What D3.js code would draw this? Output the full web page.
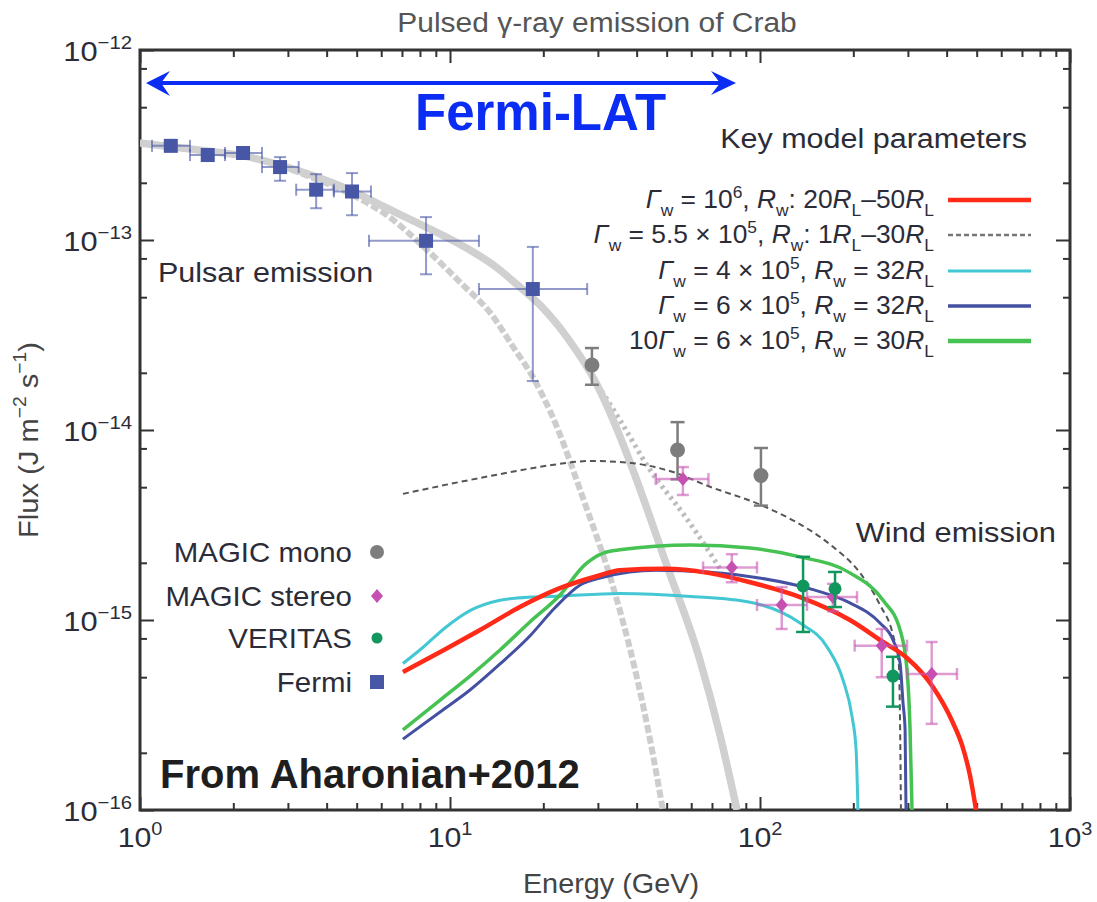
<!DOCTYPE html>
<html>
<head>
<meta charset="utf-8">
<script src="https://cdn.jsdelivr.net/npm/d3@7"></script>
<style>
body { margin: 0; background: #fff; }
text { font-family: "Liberation Sans", Arial, Helvetica, sans-serif; }
</style>
</head>
<body>
<div id="chart"></div>
<script>
// ---- data (energy in GeV, flux in J m^-2 s^-1) ----
const xTickExp = [0, 1, 2, 3];
const yTickExp = [-12, -13, -14, -15, -16];

// Fermi-LAT points
const fermiPts = [
  { e: 1.257, e0: 1.093, e1: 1.45, f: 3.13e-13, f0: 2.97e-13, f1: 3.30e-13 },
  { e: 1.654, e0: 1.45, e1: 1.88, f: 2.80e-13, f0: 2.66e-13, f1: 2.95e-13 },
  { e: 2.15, e0: 1.88, e1: 2.475, f: 2.87e-13, f0: 2.72e-13, f1: 3.02e-13 },
  { e: 2.83, e0: 2.475, e1: 3.25, f: 2.42e-13, f0: 2.05e-13, f1: 2.73e-13 },
  { e: 3.70, e0: 3.19, e1: 4.22, f: 1.84e-13, f0: 1.47e-13, f1: 2.22e-13 },
  { e: 4.83, e0: 4.22, e1: 5.56, f: 1.80e-13, f0: 1.35e-13, f1: 2.25e-13 },
  { e: 8.37, e0: 5.48, e1: 12.4, f: 9.9e-14, f0: 6.6e-14, f1: 1.32e-13 },
  { e: 18.5, e0: 12.4, e1: 27.7, f: 5.52e-14, f0: 1.81e-14, f1: 9.2e-14 }
];
// MAGIC mono
const monoPts = [
  { e: 28.7, f: 2.2e-14, f0: 1.73e-14, f1: 2.70e-14 },
  { e: 54.2, f: 7.85e-15, f0: 5.5e-15, f1: 1.1e-14 },
  { e: 100.7, f: 5.76e-15, f0: 4.0e-15, f1: 8.04e-15 }
];
// MAGIC stereo
const stereoPts = [
  { e: 56.4, e0: 46.1, e1: 68.2, f: 5.52e-15, f0: 4.55e-15, f1: 6.38e-15 },
  { e: 81.1, e0: 65.5, e1: 97.8, f: 1.89e-15, f0: 1.58e-15, f1: 2.22e-15 },
  { e: 117.5, e0: 97.8, e1: 141.8, f: 1.20e-15, f0: 8.97e-16, f1: 1.49e-15 },
  { e: 171.9, e0: 141.8, e1: 205.6, f: 1.32e-15, f0: 1.11e-15, f1: 1.55e-15 },
  { e: 247, e0: 202, e1: 298, f: 7.33e-16, f0: 5.0e-16, f1: 8.97e-16 },
  { e: 358, e0: 298, e1: 432, f: 5.2e-16, f0: 2.84e-16, f1: 7.66e-16 }
];
// VERITAS
const veritasPts = [
  { e: 137.7, f: 1.51e-15, f0: 8.65e-16, f1: 2.15e-15 },
  { e: 174.6, f: 1.46e-15, f0: 1.17e-15, f1: 1.79e-15 },
  { e: 268.5, f: 5.07e-16, f0: 3.5e-16, f1: 6.4e-16 }
];

// pulsar model curves (grey)
const pulsarSolid = [[1, 3.24e-13], [1.64, 2.94e-13], [2.15, 2.77e-13], [2.83, 2.48e-13], [3.70, 2.15e-13],
  [4.83, 1.81e-13], [6.26, 1.47e-13], [8.18, 1.19e-13], [11.0, 9.3e-14], [13.8, 7.38e-14], [16.8, 5.66e-14],
  [19.5, 4.55e-14], [23.8, 3.09e-14], [29.8, 1.73e-14], [33.6, 1.13e-14], [38.4, 6.54e-15], [49.7, 2.0e-15],
  [64.0, 6.16e-16], [74.3, 2.48e-16], [84.3, 1.0e-16]];
const pulsarDashed = [[1, 3.24e-13], [1.64, 2.94e-13], [2.15, 2.77e-13], [2.83, 2.45e-13], [3.70, 2.09e-13],
  [4.83, 1.73e-13], [6.26, 1.35e-13], [8.43, 8.86e-14], [11.0, 5.80e-14], [13.5, 4.13e-14], [16.0, 2.73e-14],
  [18.5, 1.90e-14], [21.3, 1.20e-14], [27.2, 4.13e-15], [33.6, 1.49e-15], [39.2, 5.80e-16], [44.2, 2.34e-16],
  [48.6, 1.0e-16]];
const pulsarDotted = [[1, 3.24e-13], [1.64, 2.94e-13], [2.15, 2.77e-13], [2.83, 2.48e-13], [3.70, 2.15e-13],
  [4.83, 1.81e-13], [6.26, 1.47e-13], [8.18, 1.19e-13], [11.0, 9.3e-14], [13.8, 7.38e-14], [16.8, 5.66e-14],
  [19.5, 4.55e-14], [23.8, 3.09e-14], [29.8, 1.75e-14], [35.3, 1.13e-14], [44.2, 6.16e-15], [56.9, 3.57e-15],
  [70.0, 2.17e-15], [75.4, 1.79e-15]];

// wind model curves
const windRed = [[7.05, 5.32e-16], [9.56, 6.95e-16], [12.5, 8.86e-16], [16.8, 1.17e-15], [22.6, 1.47e-15],
  [30.5, 1.72e-15], [35.3, 1.83e-15], [49.7, 1.86e-15], [68.0, 1.77e-15], [92.9, 1.58e-15], [134.6, 1.32e-15],
  [195.0, 1.0e-15], [249.5, 7.66e-16], [298.0, 6.31e-16], [361.4, 4.44e-16], [419.5, 2.87e-16], [448.3, 2.20e-16],
  [475.3, 1.53e-16], [497.7, 1.0e-16]];
const windGrey = [[7.05, 4.61e-15], [10.0, 5.20e-15], [14.5, 5.86e-15], [21.3, 6.54e-15], [28.3, 6.87e-15],
  [38.4, 6.70e-15], [52.4, 6.01e-15], [68.0, 5.07e-15], [100.7, 4.03e-15], [130.6, 3.28e-15], [170.8, 2.45e-15],
  [210.2, 1.77e-15], [243.8, 1.20e-15], [268.5, 8.34e-16], [280.5, 5.80e-16], [283.0, 2.87e-16], [284.9, 1.0e-16]];
const windCyan = [[7.05, 5.90e-16], [8.12, 7.10e-16], [9.63, 9.08e-16], [11.6, 1.12e-15], [14.5, 1.27e-15],
  [18.1, 1.32e-15], [21.3, 1.33e-15], [35.3, 1.38e-15], [59.9, 1.33e-15], [92.9, 1.24e-15], [134.6, 9.64e-16],
  [164.5, 7.22e-16], [185.3, 4.83e-16], [198.2, 3.09e-16], [204.2, 2.07e-16], [207.0, 1.0e-16]];
const windBlue = [[7.05, 2.36e-16], [9.29, 3.28e-16], [11.6, 4.28e-16], [14.5, 5.87e-16], [18.1, 8.24e-16],
  [21.8, 1.16e-15], [26.3, 1.53e-15], [31.2, 1.68e-15], [46.2, 1.83e-15], [68.0, 1.79e-15], [100.7, 1.66e-15],
  [149.3, 1.44e-15], [195.0, 1.23e-15], [243.8, 9.64e-16], [268.5, 7.85e-16], [283.0, 5.94e-16], [289.3, 3.66e-16],
  [293.8, 2.64e-16], [295.8, 1.0e-16]];
const windGreen = [[7.05, 2.64e-16], [9.29, 3.79e-16], [11.6, 5.07e-16], [14.5, 6.95e-16], [18.1, 9.76e-16],
  [22.6, 1.35e-15], [27.2, 1.95e-15], [31.2, 2.25e-15], [35.3, 2.34e-15], [59.9, 2.48e-15], [92.9, 2.39e-15],
  [134.6, 2.15e-15], [195.0, 1.77e-15], [249.5, 1.27e-15], [283.0, 8.86e-16], [298.0, 5.46e-16], [304.8, 2.64e-16],
  [309.3, 1.0e-16]];

const modelLabels = [
  [['Γ', 'i'], ['w', 'sub'], [' = 10'], ['6', 'sup'], [', '], ['R', 'i'], ['w', 'sub'], [': 20'], ['R', 'i'], ['L', 'sub'], ['–50'], ['R', 'i'], ['L', 'sub']],
  [['Γ', 'i'], ['w', 'sub'], [' = 5.5 × 10'], ['5', 'sup'], [', '], ['R', 'i'], ['w', 'sub'], [': 1'], ['R', 'i'], ['L', 'sub'], ['–30'], ['R', 'i'], ['L', 'sub']],
  [['Γ', 'i'], ['w', 'sub'], [' = 4 × 10'], ['5', 'sup'], [', '], ['R', 'i'], ['w', 'sub'], [' = 32'], ['R', 'i'], ['L', 'sub']],
  [['Γ', 'i'], ['w', 'sub'], [' = 6 × 10'], ['5', 'sup'], [', '], ['R', 'i'], ['w', 'sub'], [' = 32'], ['R', 'i'], ['L', 'sub']],
  [['10'], ['Γ', 'i'], ['w', 'sub'], [' = 6 × 10'], ['5', 'sup'], [', '], ['R', 'i'], ['w', 'sub'], [' = 30'], ['R', 'i'], ['L', 'sub']]
];
const dataLabels = ['MAGIC mono', 'MAGIC stereo', 'VERITAS', 'Fermi'];

// ---- setup ----
const W = 1097, H = 902;
const svg = d3.select('#chart').append('svg').attr('width', W).attr('height', H);
const x = d3.scaleLog().domain([1, 1000]).range([140, 1070]);
const y = d3.scaleLog().domain([1e-16, 1e-12]).range([810, 50]);
const txt = '#2c2c38';

svg.append('clipPath').attr('id', 'clip')
  .append('rect').attr('x', 140).attr('y', 50).attr('width', 930).attr('height', 760);

// the figure's font is a bit wider than Liberation Sans, so stretch horizontally
function label(g, px, py, str, fs, anchor, col, sx, weight) {
  return g.append('text').attr('transform', `translate(${px},${py}) scale(${sx || 1},1)`)
    .attr('font-size', fs).attr('text-anchor', anchor).attr('fill', col)
    .attr('font-weight', weight || 'normal').text(str);
}
// rich text with sub / superscripts
function richText(g, px, py, parts, fs, anchor, col, sx) {
  const t = g.append('text').attr('transform', `translate(${px},${py}) scale(${sx || 1},1)`)
    .attr('font-size', fs).attr('text-anchor', anchor).attr('fill', col);
  let shift = 0;
  parts.forEach(p => {
    const target = p[1] === 'sub' ? fs * 0.32 : p[1] === 'sup' ? -fs * 0.42 : 0;
    const ts = t.append('tspan').text(p[0]).attr('dy', target - shift);
    if (p[1] === 'sub' || p[1] === 'sup') ts.attr('font-size', fs * 0.66);
    if (p[1] === 'i') ts.attr('font-style', 'italic');
    shift = target;
  });
  return t;
}

// ---- axes / frame ----
const xMinor = [], yMinor = [];
for (let d = 0; d < 3; d++) for (let k = 2; k <= 9; k++) xMinor.push(k * Math.pow(10, d));
for (let d = -16; d < -12; d++) [2, 5, 8].forEach(k => yMinor.push(k * Math.pow(10, d)));
const xMajor = xTickExp.map(p => Math.pow(10, p));
const yMajor = yTickExp.map(p => Math.pow(10, p));

function tickAxis(axis, vals, size, tr) {
  const g = svg.append('g').attr('transform', tr)
    .call(axis.tickValues(vals).tickSize(size).tickFormat(''));
  g.select('.domain').remove();
  g.selectAll('line').attr('stroke', '#333').attr('stroke-width', 2);
}
tickAxis(d3.axisBottom(x), xMajor, -13, 'translate(0,810)');
tickAxis(d3.axisBottom(x), xMinor, -7, 'translate(0,810)');
tickAxis(d3.axisTop(x), xMajor, -13, 'translate(0,50)');
tickAxis(d3.axisTop(x), xMinor, -7, 'translate(0,50)');
tickAxis(d3.axisLeft(y), yMajor, -14, 'translate(140,0)');
tickAxis(d3.axisLeft(y), yMinor, -7, 'translate(140,0)');
tickAxis(d3.axisRight(y), yMajor, -14, 'translate(1070,0)');
tickAxis(d3.axisRight(y), yMinor, -7, 'translate(1070,0)');

svg.append('rect').attr('x', 140).attr('y', 50).attr('width', 930).attr('height', 760)
  .attr('fill', 'none').attr('stroke', '#333').attr('stroke-width', 3);

// tick labels
xTickExp.forEach(p => {
  richText(svg, x(Math.pow(10, p)), 847, [['10'], [String(p), 'sup']], 28, 'middle', txt, 1.08);
});
yTickExp.forEach(p => {
  richText(svg, 132, y(Math.pow(10, p)) + 11, [['10'], [String(p).replace('-', '−'), 'sup']], 28, 'end', txt, 1.1);
});

// axis titles
label(svg, 611, 893, 'Energy (GeV)', 28, 'middle', '#444', 1.03);
const yl = svg.append('g').attr('transform', 'translate(38,440) rotate(-90)');
richText(yl, 0, 0, [['Flux (J m'], ['−2', 'sup'], [' s'], ['−1', 'sup'], [')']], 28, 'middle', '#444', 1.04);

// title
label(svg, 597, 32, 'Pulsed γ-ray emission of Crab', 28, 'middle', '#555', 1.07);

// ---- curves ----
const line = d3.line().x(d => x(d[0])).y(d => y(d[1])).curve(d3.curveMonotoneX);
const plot = svg.append('g').attr('clip-path', 'url(#clip)');

plot.append('path').datum(pulsarDotted).attr('d', line).attr('fill', 'none')
  .attr('stroke', '#bdbdbd').attr('stroke-width', 5).attr('stroke-dasharray', '3,4');
plot.append('path').datum(pulsarDashed).attr('d', line).attr('fill', 'none')
  .attr('stroke', '#cdcdcd').attr('stroke-width', 6).attr('stroke-dasharray', '8,3');
plot.append('path').datum(pulsarSolid).attr('d', line).attr('fill', 'none')
  .attr('stroke', '#d0d0d0').attr('stroke-width', 7.5);

plot.append('path').datum(windGrey).attr('d', line).attr('fill', 'none')
  .attr('stroke', '#555').attr('stroke-width', 2).attr('stroke-dasharray', '6,4');
plot.append('path').datum(windCyan).attr('d', line).attr('fill', 'none')
  .attr('stroke', '#43c7d3').attr('stroke-width', 3);
plot.append('path').datum(windGreen).attr('d', line).attr('fill', 'none')
  .attr('stroke', '#45c252').attr('stroke-width', 3.5);
plot.append('path').datum(windBlue).attr('d', line).attr('fill', 'none')
  .attr('stroke', '#4450a2').attr('stroke-width', 3);
plot.append('path').datum(windRed).attr('d', line).attr('fill', 'none')
  .attr('stroke', '#ff2a17').attr('stroke-width', 4.5);

// ---- data points ----
function errBars(data, col, w, cap, horiz) {
  const g = plot.append('g').attr('stroke', col).attr('stroke-width', w).attr('fill', 'none');
  data.forEach(d => {
    const cx = x(d.e), cy = y(d.f);
    g.append('line').attr('x1', cx).attr('x2', cx).attr('y1', y(d.f0)).attr('y2', y(d.f1));
    g.append('line').attr('x1', cx - cap).attr('x2', cx + cap).attr('y1', y(d.f0)).attr('y2', y(d.f0));
    g.append('line').attr('x1', cx - cap).attr('x2', cx + cap).attr('y1', y(d.f1)).attr('y2', y(d.f1));
    if (horiz) {
      g.append('line').attr('x1', x(d.e0)).attr('x2', x(d.e1)).attr('y1', cy).attr('y2', cy);
      g.append('line').attr('x1', x(d.e0)).attr('x2', x(d.e0)).attr('y1', cy - cap).attr('y2', cy + cap);
      g.append('line').attr('x1', x(d.e1)).attr('x2', x(d.e1)).attr('y1', cy - cap).attr('y2', cy + cap);
    }
  });
}
const fermiCol = '#4757a6', monoCol = '#7d7d7d', stereoCol = '#c650b2', veritasCol = '#11975d';

errBars(fermiPts, 'rgba(71,87,166,0.6)', 2, 6, true);
plot.selectAll('.fermi').data(fermiPts).enter().append('rect')
  .attr('x', d => x(d.e) - 7).attr('y', d => y(d.f) - 7).attr('width', 14).attr('height', 14)
  .attr('fill', fermiCol);

errBars(monoPts, monoCol, 2.5, 7, false);
plot.selectAll('.mono').data(monoPts).enter().append('circle')
  .attr('cx', d => x(d.e)).attr('cy', d => y(d.f)).attr('r', 7.5).attr('fill', monoCol);

errBars(stereoPts, 'rgba(200,90,180,0.6)', 2.5, 6, true);
plot.selectAll('.stereo').data(stereoPts).enter().append('path')
  .attr('d', d => `M${x(d.e)},${y(d.f) - 7}l6,7l-6,7l-6,-7z`).attr('fill', stereoCol);

errBars(veritasPts, veritasCol, 2.5, 7, false);
plot.selectAll('.veritas').data(veritasPts).enter().append('circle')
  .attr('cx', d => x(d.e)).attr('cy', d => y(d.f)).attr('r', 6.5).attr('fill', veritasCol);

// ---- annotations ----
label(svg, 158, 282, 'Pulsar emission', 28, 'start', txt, 1.09);
label(svg, 1056, 542, 'Wind emission', 28, 'end', txt, 1.1);
label(svg, 1027, 148, 'Key model parameters', 28, 'end', txt, 1.09);

// model legend
const rowY = [200, 235, 271, 306, 341];
const rowStyle = [
  { c: '#ff2a17', w: 4.5, d: null },
  { c: '#777', w: 2.5, d: '5,3' },
  { c: '#43c7d3', w: 3, d: null },
  { c: '#4450a2', w: 3.5, d: null },
  { c: '#45c252', w: 4.5, d: null }
];
modelLabels.forEach((parts, i) => {
  richText(svg, 934, rowY[i] + 8, parts, 25, 'end', txt, 1.055);
  svg.append('line').attr('x1', 948).attr('x2', 1031).attr('y1', rowY[i]).attr('y2', rowY[i])
    .attr('stroke', rowStyle[i].c).attr('stroke-width', rowStyle[i].w)
    .attr('stroke-dasharray', rowStyle[i].d);
});

// data legend
const legY = [552, 596, 638, 682];
dataLabels.forEach((lab, i) => {
  label(svg, 352, legY[i] + 10, lab, 27, 'end', txt, 1.09);
});
svg.append('circle').attr('cx', 377).attr('cy', legY[0]).attr('r', 7).attr('fill', monoCol);
svg.append('path').attr('d', `M377,${legY[1] - 7}l6,7l-6,7l-6,-7z`).attr('fill', stereoCol);
svg.append('circle').attr('cx', 377).attr('cy', legY[2]).attr('r', 5.5).attr('fill', veritasCol);
svg.append('rect').attr('x', 370).attr('y', legY[3] - 7).attr('width', 14).attr('height', 14).attr('fill', fermiCol);

// Fermi-LAT range arrow
const blue = '#0b2cf2';
svg.append('line').attr('x1', 160).attr('x2', 722).attr('y1', 83).attr('y2', 83)
  .attr('stroke', blue).attr('stroke-width', 4);
svg.append('path').attr('d', 'M146,83L170,71L161,83L170,96Z').attr('fill', blue);
svg.append('path').attr('d', 'M736,83L711,71L720,83L711,95Z').attr('fill', blue);
label(svg, 415, 130, 'Fermi-LAT', 51, 'start', blue, 1, 'bold');

label(svg, 160, 788, 'From Aharonian+2012', 40, 'start', '#1e1e1e', 1, 'bold');
</script>
</body>
</html>
